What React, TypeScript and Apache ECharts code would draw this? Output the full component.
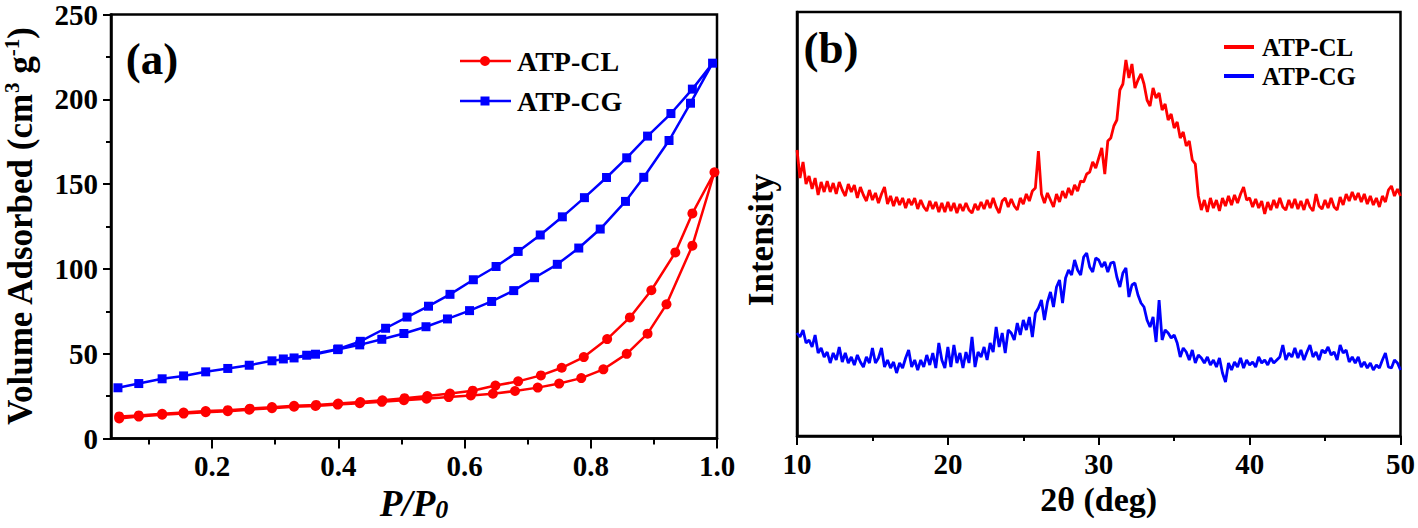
import React, { useEffect, useRef } from "react";
import * as echarts from "echarts";

// ---------- Panel (a): N2 isotherms ----------
const clAdsX = [0.053, 0.084, 0.121, 0.155, 0.19, 0.225, 0.259, 0.295, 0.33, 0.364, 0.399, 0.434, 0.469, 0.504, 0.54, 0.575, 0.61, 0.645, 0.68, 0.716, 0.75, 0.785, 0.82, 0.857, 0.89, 0.92, 0.961, 0.996];
const clAdsY = [11.8, 12.9, 14.0, 14.7, 15.5, 16.1, 17.0, 17.9, 18.7, 19.2, 20.0, 20.8, 21.6, 22.6, 23.5, 24.4, 25.4, 26.4, 28.0, 30.0, 32.4, 35.6, 40.8, 49.9, 61.8, 79.1, 113.7, 157.0];
const clDesX = [0.961, 0.934, 0.896, 0.862, 0.826, 0.789, 0.754, 0.721, 0.685, 0.649, 0.613, 0.577, 0.541, 0.505, 0.47, 0.435, 0.4, 0.365, 0.33, 0.295, 0.26, 0.225, 0.19, 0.155, 0.121, 0.084, 0.053];
const clDesY = [132.7, 109.7, 87.4, 71.4, 58.6, 48.0, 41.7, 37.2, 33.7, 31.2, 28.2, 26.5, 25.0, 23.8, 22.5, 21.5, 20.6, 19.8, 19.3, 18.5, 17.6, 16.7, 16.2, 15.3, 14.6, 13.6, 13.0];

const cgAdsX = [0.051, 0.084, 0.121, 0.155, 0.19, 0.225, 0.259, 0.295, 0.33, 0.364, 0.399, 0.434, 0.469, 0.504, 0.539, 0.573, 0.608, 0.643, 0.678, 0.711, 0.747, 0.781, 0.815, 0.855, 0.884, 0.924, 0.958, 0.993];
const cgAdsY = [29.9, 32.4, 35.2, 36.9, 39.3, 41.3, 43.2, 45.8, 47.5, 49.7, 52.4, 55.2, 58.5, 61.9, 65.9, 70.5, 75.4, 80.8, 87.2, 94.8, 102.7, 112.3, 123.5, 139.8, 154.0, 175.7, 197.7, 221.3];
const cgDesX = [0.961, 0.927, 0.89, 0.857, 0.825, 0.79, 0.755, 0.72, 0.685, 0.65, 0.614, 0.577, 0.543, 0.509, 0.475, 0.435, 0.4, 0.35, 0.313];
const cgDesY = [206.0, 191.6, 178.3, 165.5, 153.9, 142.0, 130.7, 120.0, 110.3, 101.4, 93.6, 85.0, 78.0, 71.6, 65.0, 57.3, 52.8, 49.1, 46.9];

const isoMajorTicks = [0.2, 0.4, 0.6, 0.8, 1.0];
const isoMinorTicks = [0.1, 0.3, 0.5, 0.7, 0.9];

// ---------- Panel (b): XRD (arbitrary intensity units), 10..50 deg step 0.2 ----------
const XRD_START = 10;
const XRD_STEP = 0.2;
const xrdCL = [
  286, 258, 274, 252, 260, 247, 258, 241, 254, 244,
  255, 244, 253, 242, 254, 246, 240, 252, 244, 251,
  238, 249, 241, 235, 246, 236, 243, 233, 242, 249,
  232, 240, 230, 239, 231, 238, 228, 237, 231, 238,
  227, 236, 229, 225, 235, 227, 234, 224, 233, 224,
  234, 225, 233, 223, 232, 225, 233, 226, 223, 232,
  226, 234, 227, 236, 228, 238, 229, 223, 235, 238,
  229, 237, 230, 226, 238, 232, 242, 235, 245, 248,
  285, 242, 233, 243, 236, 229, 242, 234, 245, 238,
  248, 241, 251, 245, 255, 254, 262, 264, 274, 268,
  278, 288, 262, 295, 298, 310, 316, 346, 352, 376,
  358, 372, 348, 356, 362, 352, 336, 330, 348, 338,
  343, 326, 332, 316, 322, 308, 314, 298, 304, 290,
  295, 276, 272, 240, 226, 236, 224, 238, 228, 236,
  225, 238, 230, 240, 231, 241, 233, 242, 249, 236,
  238, 229, 237, 228, 235, 222, 234, 226, 236, 228,
  238, 229, 226, 236, 228, 237, 227, 235, 226, 237,
  229, 225, 242, 230, 227, 236, 228, 238, 229, 226,
  239, 231, 242, 235, 244, 236, 243, 234, 242, 232,
  240, 231, 238, 229, 240, 234, 246, 250, 240, 247,
  240,
];
const xrdCG = [
  103, 99, 106, 93, 96, 89, 101, 83, 88, 79,
  84, 73, 83, 76, 89, 74, 83, 73, 79, 71,
  81, 74, 69, 79, 73, 88, 73, 78, 88, 69,
  76, 68, 74, 63, 73, 68, 78, 86, 69, 76,
  66, 76, 69, 81, 71, 83, 68, 93, 76, 68,
  89, 69, 91, 73, 83, 68, 84, 73, 99, 69,
  84, 79, 89, 76, 93, 84, 109, 89, 103, 83,
  106, 103, 96, 113, 101, 116, 106, 119, 99, 123,
  128, 136, 116, 134, 144, 129, 149, 156, 133, 158,
  166, 161, 176, 166, 161, 179, 183, 169, 164, 178,
  176, 169, 174, 164, 173, 174, 159, 149, 163, 168,
  139, 151, 153, 141, 133, 129, 116, 109, 119, 94,
  136, 96, 106, 103, 98, 101, 93, 79, 88, 84,
  76, 86, 73, 81, 78, 73, 79, 71, 76, 69,
  78, 63, 54, 73, 66, 74, 69, 78, 68, 76,
  71, 74, 69, 79, 73, 76, 71, 78, 73, 76,
  79, 91, 76, 83, 79, 88, 78, 86, 76, 84,
  91, 79, 84, 76, 86, 83, 89, 81, 84, 76,
  91, 83, 86, 74, 79, 73, 79, 69, 74, 68,
  73, 66, 71, 68, 76, 83, 69, 68, 76, 73,
  66,
];

const RED = "#ff0000";
const BLUE = "#0000ff";
const FONT = "'Liberation Serif', 'Times New Roman', serif";

const pairs = (xs: number[], ys: number[]) => xs.map((x, i) => [x, ys[i]]);
const xrdPairs = (ys: number[]) =>
  ys.map((v, i) => [+(XRD_START + i * XRD_STEP).toFixed(1), v]);

export default function App() {
  const ref = useRef<HTMLDivElement>(null);
  useEffect(() => {
    if (!ref.current) return;
    const chart = echarts.init(ref.current, undefined, { renderer: "svg" });
    const black = { color: "#000", width: 2.5 };
    const tickLine = { color: "#000", width: 2 };
    const labelStyle = {
      color: "#000",
      fontFamily: FONT,
      fontWeight: "bold" as const,
      fontSize: 29,
    };
    const txt = (text: string, x: number, y: number, size: number, align = "left", rotation = 0) => ({
      type: "text",
      x,
      y,
      rotation,
      style: { text, fill: "#000", fontFamily: FONT, fontWeight: "bold", fontSize: size, align, verticalAlign: "middle" },
    });
    const option: any = {
      animation: false,
      backgroundColor: "#fff",
      grid: [
        { left: 111, right: 701, top: 14, bottom: 89.5, show: true, borderColor: "#000", borderWidth: 2.5 },
        { left: 797, right: 17, top: 12, bottom: 92, show: true, borderColor: "#000", borderWidth: 2.5 },
      ],
      xAxis: [
        {
          gridIndex: 0,
          type: "value",
          position: "bottom",
          min: 0.04,
          max: 1.0,
          axisLine: { lineStyle: black },
          axisTick: { show: true, customValues: isoMajorTicks, length: 10, lineStyle: tickLine },
          axisLabel: {
            ...labelStyle,
            customValues: isoMajorTicks,
            margin: 13,
            formatter: (v: number) => v.toFixed(1),
          },
          splitLine: { show: false },
          name: "{i|P/P}{s|0}",
          nameLocation: "middle",
          nameGap: 46,
          nameTextStyle: {
            rich: {
              i: { fontFamily: FONT, fontStyle: "italic", fontWeight: "bold", fontSize: 37, color: "#000" },
              s: { fontFamily: FONT, fontStyle: "italic", fontWeight: "bold", fontSize: 26, color: "#000", verticalAlign: "bottom", padding: [12, 0, 0, 0] },
            },
          },
        },
        {
          gridIndex: 0,
          type: "value",
          position: "bottom",
          min: 0.04,
          max: 1.0,
          axisLine: { show: false },
          axisTick: { show: true, customValues: isoMinorTicks, length: 6, lineStyle: tickLine },
          axisLabel: { show: false },
          splitLine: { show: false },
        },
        {
          gridIndex: 1,
          type: "value",
          position: "bottom",
          min: 10,
          max: 50,
          interval: 10,
          axisLine: { lineStyle: black },
          axisTick: { show: true, length: 9, lineStyle: tickLine },
          minorTick: { show: true, splitNumber: 2, length: 5, lineStyle: tickLine },
          axisLabel: { ...labelStyle, margin: 13 },
          splitLine: { show: false },
          name: "2θ (deg)",
          nameLocation: "middle",
          nameGap: 46,
          nameTextStyle: { ...labelStyle, fontSize: 34 },
        },
      ],
      yAxis: [
        {
          gridIndex: 0,
          type: "value",
          min: 0,
          max: 250,
          interval: 50,
          axisLine: { lineStyle: black },
          axisTick: { show: true, length: 8, lineStyle: tickLine },
          minorTick: { show: true, splitNumber: 2, length: 5, lineStyle: tickLine },
          axisLabel: { ...labelStyle, margin: 13 },
          splitLine: { show: false },
          name: "{b|Volume Adsorbed (cm}{u|3}{b| g}{u|-1}{b|)}",
          nameLocation: "middle",
          nameRotate: 90,
          nameGap: 72,
          nameTextStyle: {
            rich: {
              b: { fontFamily: FONT, fontWeight: "bold", fontSize: 35, color: "#000", lineHeight: 38 },
              u: { fontFamily: FONT, fontWeight: "bold", fontSize: 21, color: "#000", verticalAlign: "top", lineHeight: 38 },
            },
          },
        },
        {
          gridIndex: 1,
          type: "value",
          min: 0,
          max: 424,
          axisLine: { lineStyle: black },
          axisTick: { show: false },
          axisLabel: { show: false },
          splitLine: { show: false },
        },
      ],
      series: [
        {
          name: "ATP-CL",
          type: "line",
          xAxisIndex: 0,
          yAxisIndex: 0,
          data: pairs(clAdsX, clAdsY).concat(pairs(clDesX, clDesY)),
          symbol: "circle",
          symbolSize: 10,
          itemStyle: { color: RED },
          lineStyle: { color: RED, width: 2.5 },
        },
        {
          name: "ATP-CG",
          type: "line",
          xAxisIndex: 0,
          yAxisIndex: 0,
          data: pairs(cgAdsX, cgAdsY).concat(pairs(cgDesX, cgDesY)),
          symbol: "rect",
          symbolSize: 9,
          itemStyle: { color: BLUE },
          lineStyle: { color: BLUE, width: 2.5 },
        },
        {
          name: "ATP-CL (XRD)",
          type: "line",
          xAxisIndex: 2,
          yAxisIndex: 1,
          data: xrdPairs(xrdCL),
          symbol: "none",
          lineStyle: { color: RED, width: 2.8 },
        },
        {
          name: "ATP-CG (XRD)",
          type: "line",
          xAxisIndex: 2,
          yAxisIndex: 1,
          data: xrdPairs(xrdCG),
          symbol: "none",
          lineStyle: { color: BLUE, width: 2.8 },
        },
      ],
      graphic: [
        txt("(a)", 152, 59, 45, "center"),
        txt("(b)", 831, 48, 45, "center"),
        txt("Intensity", 761, 240, 35, "center", Math.PI / 2),
        // legend (a)
        { type: "line", shape: { x1: 460, y1: 61, x2: 511, y2: 61 }, style: { stroke: RED, lineWidth: 2.5 } },
        { type: "circle", shape: { cx: 485, cy: 61, r: 5 }, style: { fill: RED } },
        txt("ATP-CL", 517, 61, 28),
        { type: "line", shape: { x1: 460, y1: 101, x2: 511, y2: 101 }, style: { stroke: BLUE, lineWidth: 2.5 } },
        { type: "rect", shape: { x: 480.5, y: 96.5, width: 9, height: 9 }, style: { fill: BLUE } },
        txt("ATP-CG", 517, 101, 28),
        // legend (b)
        { type: "line", shape: { x1: 1224, y1: 47, x2: 1254, y2: 47 }, style: { stroke: RED, lineWidth: 4 } },
        txt("ATP-CL", 1262, 47, 25),
        { type: "line", shape: { x1: 1224, y1: 76, x2: 1254, y2: 76 }, style: { stroke: BLUE, lineWidth: 4 } },
        txt("ATP-CG", 1262, 76, 25),
      ],
    };
    chart.setOption(option);
    return () => chart.dispose();
  }, []);
  return (
    <div
      ref={ref}
      style={{ position: "absolute", left: 0, top: 0, width: 1418, height: 528, background: "#fff" }}
    />
  );
}
